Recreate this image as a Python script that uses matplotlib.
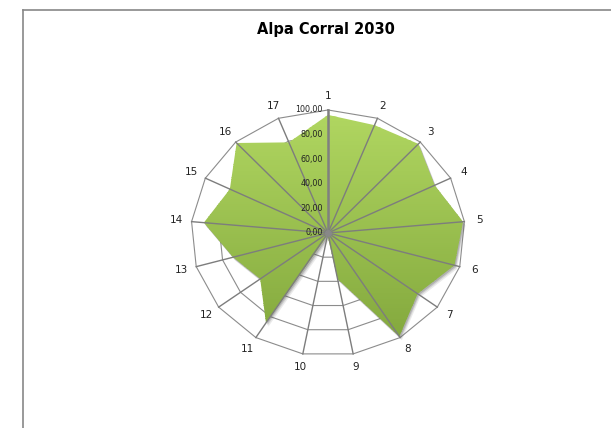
import numpy as np
import matplotlib.pyplot as plt
from matplotlib.patches import Polygon
from matplotlib.lines import Line2D
from matplotlib.colors import LinearSegmentedColormap

categorias = [str(i) for i in range(1, 18)]
valores = [96, 94, 98, 87, 99, 96, 82, 99, 38, 2, 86, 62, 72, 91, 80, 99, 79]
niveles = [0, 20, 40, 60, 80, 100]
etiquetas_niveles = ["0,00", "20,00", "40,00", "60,00", "80,00", "100,00"]
titulo = "Alpa Corral 2030"

n = len(categorias)
ang = np.arange(n) * 2 * np.pi / n

def xy(r, a):
    return r * np.sin(a), r * np.cos(a)

fig = plt.figure(figsize=(6.11, 4.28), dpi=100)
rect = [0.2229, 0.0533, 0.6278, 0.8047]
ax = fig.add_axes(rect)
ax.set_xlim(-140, 140)
ax.set_ylim(-140, 140)
ax.axis("off")

gris = "#8c8c8c"

# anillos poligonales
for nv in niveles[1:]:
    x, y = xy(nv, ang)
    ax.plot(np.append(x, x[0]), np.append(y, y[0]), color=gris, lw=0.8, zorder=1)

# area con degradado (bandas horizontales recortadas) y sombra
px, py = xy(np.array(valores, dtype=float), ang)
verts = np.column_stack([px, py])
for k, al in [(3.0, 0.12), (2.0, 0.18), (1.2, 0.25)]:
    ax.add_patch(Polygon(verts + np.array([k * 0.6, -k]), closed=True, facecolor="#555555",
                         alpha=al, edgecolor="none", zorder=2))
cmap = LinearSegmentedColormap.from_list("verde", ["#7fa43a", "#b2d862"])
clip = Polygon(verts, closed=True, facecolor="none", edgecolor="none", zorder=2.5)
ax.add_patch(clip)
bandas = np.linspace(-105, 105, 120)
for y0, y1 in zip(bandas[:-1], bandas[1:]):
    b = ax.fill_between([-105, 105], y0, y1 + 0.3, color=cmap((y0 + 105) / 210),
                        lw=0, zorder=3)
    b.set_clip_path(clip)

# radios
for i, a in enumerate(ang):
    x, y = xy(100, a)
    if i == 0:
        ax.plot([0, x], [0, y], color="#808080", lw=1.8, zorder=5)
    else:
        ax.plot([0, x], [0, y], color="#7d7d7d", lw=1.0, zorder=5)
ax.plot([0], [0], "o", color="#888888", ms=4, zorder=6)

# etiquetas de categorias
for c, a in zip(categorias, ang):
    x, y = xy(111, a)
    ax.text(x, y, c, ha="center", va="center", fontsize=7.5, color="#222222")

# etiquetas del eje de valores
for nv, t in zip(niveles, etiquetas_niveles):
    ax.text(-4, nv, t, ha="right", va="center", fontsize=5.8, color="#222222", zorder=7)

fig.text(0.534, 0.93, titulo, ha="center", va="center", fontsize=10.5, fontweight="bold")

# marco del grafico
fig.add_artist(Line2D([23 / 611, 23 / 611], [0, 1 - 10 / 428], color="#888888", lw=1.2))
fig.add_artist(Line2D([23 / 611, 1], [1 - 10 / 428, 1 - 10 / 428], color="#888888", lw=1.2))

fig.savefig("out.png", dpi=100)
